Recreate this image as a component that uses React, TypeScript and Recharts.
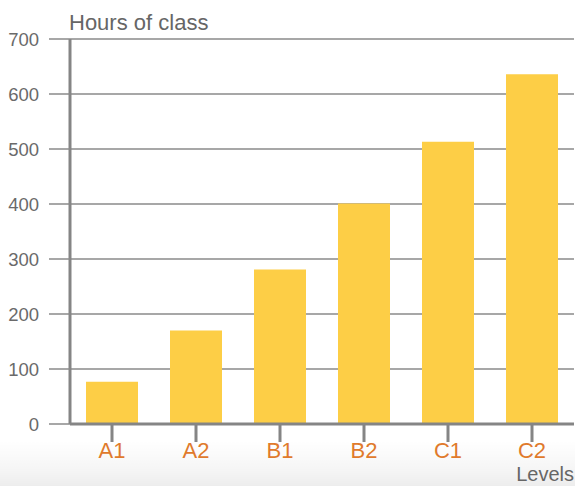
import React from 'react';
import { BarChart, Bar, XAxis, YAxis, CartesianGrid } from 'recharts';

const levels = ['A1', 'A2', 'B1', 'B2', 'C1', 'C2'];
const hours = [77, 170, 281, 401, 513, 636];
const yTicks = [0, 100, 200, 300, 400, 500, 600, 700];

const data = levels.map((level, i) => ({ level, hours: hours[i] }));

const FONT = '"Liberation Sans", Arial, Helvetica, sans-serif';

export default function App() {
  return (
    <div style={{ position: 'absolute', left: 0, top: 0, width: 575, height: 486, background: '#fff', fontFamily: FONT, overflow: 'hidden' }}>
      <div
        style={{
          position: 'absolute',
          left: 0,
          top: 440,
          width: 575,
          height: 46,
          background: 'linear-gradient(to bottom, rgba(0,0,0,0) 0%, rgba(0,0,0,0.035) 60%, rgba(0,0,0,0.07) 100%)',
        }}
      />
      <div style={{ position: 'absolute', left: 0, top: 0 }}>
        <BarChart
          width={575}
          height={486}
          data={data}
          margin={{ top: 39, right: 1, left: 0, bottom: 0 }}
          barCategoryGap={16}
        >
          <CartesianGrid vertical={false} stroke="#8a8a8a" strokeWidth={1.5} />
          <YAxis
            domain={[0, 700]}
            ticks={yTicks}
            interval={0}
            width={70}
            tickSize={21}
            tickMargin={10}
            axisLine={{ stroke: '#858585', strokeWidth: 3 }}
            tickLine={{ stroke: '#8a8a8a', strokeWidth: 1.5 }}
            tick={{ fill: '#6a6a6a', fontSize: 18.5, fontFamily: FONT }}
          />
          <XAxis
            dataKey="level"
            height={62}
            tickSize={18}
            tickMargin={0}
            axisLine={{ stroke: '#858585', strokeWidth: 3 }}
            tickLine={{ stroke: '#858585', strokeWidth: 3 }}
            tick={{ fill: '#e07a2c', fontSize: 22, fontFamily: FONT }}
          />
          <Bar dataKey="hours" fill="#fdce46" isAnimationActive={false} />
        </BarChart>
      </div>
      <div style={{ position: 'absolute', left: 69, top: 10, fontSize: 22, color: '#666', fontFamily: FONT, lineHeight: '26px', whiteSpace: 'nowrap' }}>
        Hours of class
      </div>
      <div style={{ position: 'absolute', right: 1, top: 465, fontSize: 20, color: '#666', fontFamily: FONT, lineHeight: '18px', whiteSpace: 'nowrap' }}>
        Levels
      </div>
    </div>
  );
}
